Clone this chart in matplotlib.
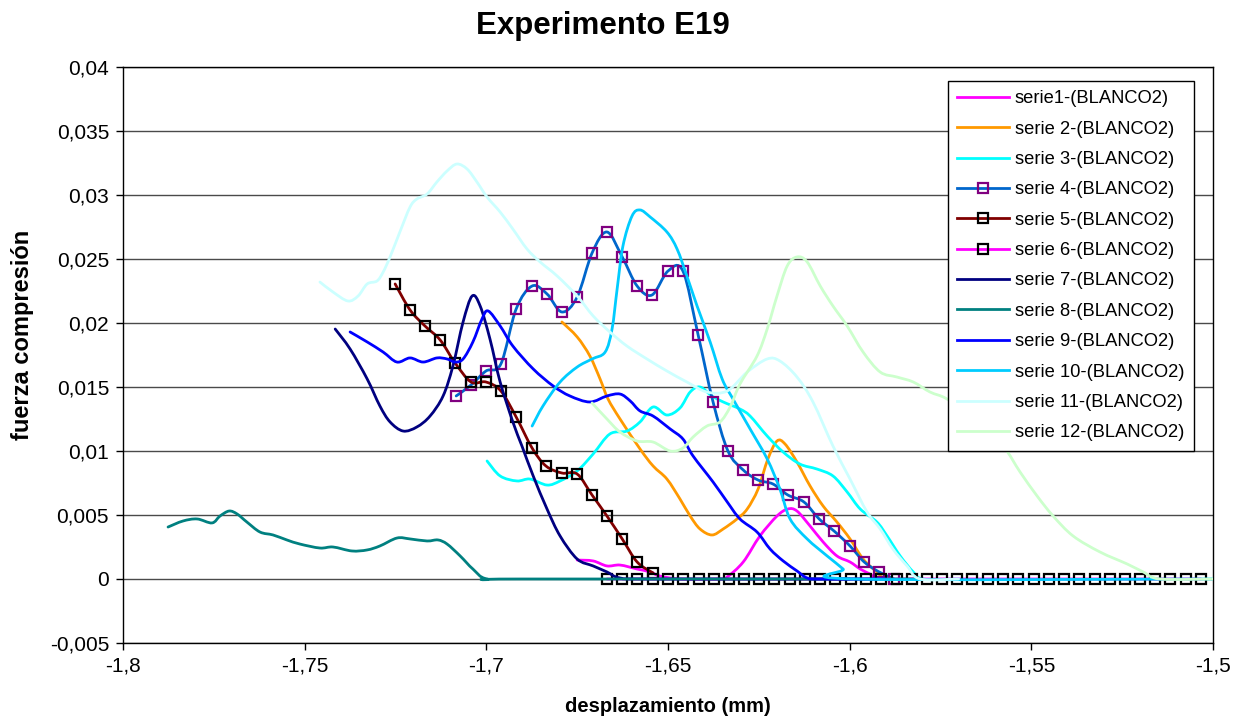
import numpy as np
import matplotlib
matplotlib.use("Agg")
import matplotlib.pyplot as plt
from matplotlib.path import Path
from matplotlib.patches import PathPatch
from matplotlib.lines import Line2D
from matplotlib.ticker import FixedLocator, FuncFormatter

plt.rcParams['font.family'] = ['Liberation Sans', 'DejaVu Sans']

# ---- data ----
s1_x = [-1.675, -1.6706, -1.6668, -1.6632, -1.6585, -1.6549, -1.6522, -1.6467, -1.6357,
        -1.6337, -1.6293, -1.6247, -1.62, -1.617, -1.6145, -1.6109, -1.6073, -1.6035,
        -1.5999, -1.5971, -1.5944, -1.5916, -1.58]
s1_y = [0.00148, 0.00141, 0.00102, 0.00109, 0.00078, 0.00055, 0.00023, 0.0, 0.0,
        0.00016, 0.00133, 0.00336, 0.00492, 0.00547, 0.00531, 0.00414, 0.00289, 0.0018,
        0.00133, 0.00078, 0.00039, 0.0, 0.0]

s2_x = [-1.6792, -1.675, -1.6715, -1.6687, -1.6665, -1.6632, -1.6577, -1.6541, -1.6503,
        -1.6467, -1.6439, -1.6412, -1.6379, -1.6348, -1.631, -1.6282, -1.6252, -1.6225,
        -1.62, -1.6178, -1.6145, -1.6109, -1.6073, -1.6035, -1.5999, -1.5963, -1.5925,
        -1.5897, -1.58]
s2_y = [0.02008, 0.01891, 0.01742, 0.01563, 0.01406, 0.0125, 0.01016, 0.00883, 0.00781,
        0.00625, 0.00492, 0.00391, 0.00344, 0.00391, 0.00469, 0.00547, 0.00703, 0.00938,
        0.01078, 0.01055, 0.00914, 0.00727, 0.0057, 0.00445, 0.00313, 0.00156, 0.00055,
        0.0, 0.0]

s3_x = [-1.6998, -1.6962, -1.6916, -1.688, -1.6833, -1.6797, -1.675, -1.6706, -1.666,
        -1.6613, -1.6577, -1.6541, -1.6503, -1.6467, -1.6439, -1.6412, -1.6379, -1.6348,
        -1.6302, -1.6274, -1.6227, -1.6183, -1.6137, -1.609, -1.6046, -1.6007, -1.5971,
        -1.5925, -1.5897, -1.5861, -1.5825, -1.5798, -1.57]
s3_y = [0.00922, 0.00805, 0.00766, 0.00781, 0.00734, 0.00766, 0.00844, 0.00977, 0.01133,
        0.01156, 0.01227, 0.01344, 0.01281, 0.01336, 0.01461, 0.015, 0.0143, 0.01383,
        0.01328, 0.01273, 0.01117, 0.00992, 0.00898, 0.00859, 0.00805, 0.0068, 0.00547,
        0.00445, 0.00336, 0.0018, 0.00055, 0.0, 0.0]

s4_x = [-1.7083, -1.7042, -1.7001, -1.696, -1.6918, -1.6874, -1.6833, -1.6792, -1.675,
        -1.6709, -1.6668, -1.6626, -1.6585, -1.6544, -1.65, -1.6459, -1.6417, -1.6376,
        -1.6335, -1.6293, -1.6252, -1.6211, -1.617, -1.6126, -1.6084, -1.6043, -1.5999,
        -1.596, -1.5919, -1.5878]
s4_y = [0.0143, 0.01516, 0.01625, 0.0168, 0.02109, 0.02289, 0.02227, 0.02086, 0.02203,
        0.02547, 0.02711, 0.02516, 0.02289, 0.02219, 0.02406, 0.02406, 0.01906, 0.01383,
        0.01, 0.00852, 0.00773, 0.00742, 0.00656, 0.00602, 0.00469, 0.00375, 0.00258,
        0.00133, 0.00055, 0.0]

s5_x = [-1.7251, -1.721, -1.7169, -1.7127, -1.7086, -1.7042, -1.7001, -1.696, -1.6918,
        -1.6874, -1.6836, -1.6792, -1.675, -1.6709, -1.6668, -1.6626, -1.6585, -1.6541]
s5_y = [0.02305, 0.02102, 0.01977, 0.01867, 0.01688, 0.01539, 0.01539, 0.01469, 0.01266,
        0.01023, 0.00883, 0.00828, 0.0082, 0.00656, 0.00492, 0.00313, 0.00133, 0.00047]

s6_x = [-1.6668, -1.6626, -1.6584, -1.6542, -1.65, -1.6458, -1.6416, -1.6374, -1.6333,
        -1.6291, -1.6249, -1.6207, -1.6165, -1.6123, -1.6081, -1.6039, -1.5997, -1.5955,
        -1.5913, -1.5871, -1.5829, -1.5787, -1.5746, -1.5704, -1.5662, -1.562, -1.5578,
        -1.5536, -1.5494, -1.5452, -1.541, -1.5368, -1.5326, -1.5284, -1.5242, -1.52,
        -1.5159, -1.5117, -1.5075, -1.5033]
s6_y = [0.0] * len(s6_x)

s7_x = [-1.7416, -1.7375, -1.7328, -1.7293, -1.7265, -1.7229, -1.7191, -1.7155, -1.7119,
        -1.7092, -1.7064, -1.7039, -1.7017, -1.699, -1.6962, -1.6927, -1.6902, -1.6871,
        -1.6833, -1.6797, -1.675, -1.6706, -1.6668, -1.6632, -1.655, -1.6]
s7_y = [0.01953, 0.01797, 0.01563, 0.01352, 0.01227, 0.01156, 0.01188, 0.01273, 0.0143,
        0.01664, 0.02008, 0.02211, 0.02133, 0.01875, 0.01539, 0.01227, 0.01039, 0.00805,
        0.00547, 0.00336, 0.00156, 0.00102, 0.00055, 0.00008, 0.0, 0.0]

s8_x = [-1.7876, -1.7835, -1.7796, -1.7755, -1.7733, -1.7708, -1.7686, -1.7659, -1.7623,
        -1.7587, -1.7549, -1.7513, -1.7458, -1.7422, -1.737, -1.7328, -1.7293, -1.7246,
        -1.721, -1.7163, -1.7133, -1.7108, -1.7072, -1.7037, -1.6998, -1.69, -1.58]
s8_y = [0.00406, 0.00453, 0.00469, 0.00438, 0.00492, 0.00531, 0.00508, 0.00445, 0.00367,
        0.00344, 0.00305, 0.00273, 0.00242, 0.0025, 0.00219, 0.00227, 0.00258, 0.0032,
        0.00313, 0.00297, 0.00305, 0.00273, 0.0018, 0.00078, 0.0, 0.0, 0.0]

s9_x = [-1.7375, -1.7328, -1.7284, -1.7246, -1.721, -1.7174, -1.7136, -1.7108, -1.7086,
        -1.7064, -1.7037, -1.7012, -1.6995, -1.6962, -1.6927, -1.6871, -1.6816, -1.677,
        -1.6715, -1.6668, -1.6632, -1.6604, -1.6577, -1.6541, -1.6494, -1.6459, -1.6431,
        -1.6376, -1.6337, -1.6302, -1.6255, -1.6219, -1.6183, -1.6145, -1.6117, -1.6081,
        -1.59]
s9_y = [0.0193, 0.01852, 0.01773, 0.01695, 0.01727, 0.01695, 0.01727, 0.01719, 0.01695,
        0.01719, 0.01852, 0.02031, 0.02094, 0.01977, 0.0182, 0.01641, 0.01508, 0.0143,
        0.01383, 0.0143, 0.01445, 0.01391, 0.01313, 0.01273, 0.01172, 0.01094, 0.00961,
        0.00758, 0.00602, 0.00469, 0.00367, 0.00234, 0.00141, 0.00063, 0.00008, 0.0,
        0.0]

s10_x = [-1.6874, -1.6844, -1.6797, -1.675, -1.6709, -1.6673, -1.6654, -1.664, -1.6624,
         -1.6599, -1.6577, -1.6549, -1.6503, -1.6475, -1.6448, -1.642, -1.6384, -1.6351,
         -1.6321, -1.6274, -1.6227, -1.6192, -1.6164, -1.6117, -1.6062, -1.6018, -1.5991,
         -1.5]
s10_y = [0.01195, 0.01352, 0.01539, 0.01656, 0.01719, 0.01773, 0.01953, 0.02266, 0.02602,
         0.02836, 0.02883, 0.02828, 0.02711, 0.02578, 0.02367, 0.02133, 0.01852, 0.01563,
         0.01406, 0.01172, 0.00938, 0.00703, 0.00469, 0.00313, 0.0018, 0.00078, 0.0,
         0.0]

s11_x = [-1.7458, -1.7422, -1.7381, -1.7353, -1.7328, -1.7301, -1.7284, -1.7265, -1.7238,
         -1.721, -1.7191, -1.7163, -1.7136, -1.7108, -1.7081, -1.7053, -1.7026, -1.6998,
         -1.6962, -1.6927, -1.6888, -1.6852, -1.6805, -1.675, -1.6706, -1.666, -1.6613,
         -1.6558, -1.6503, -1.6448, -1.6393, -1.6337, -1.6282, -1.6227, -1.6192, -1.6145,
         -1.6101, -1.6046, -1.5999, -1.5952, -1.5916, -1.5881, -1.5842, -1.5806, -1.57]
s11_y = [0.0232, 0.02242, 0.02172, 0.02211, 0.02305, 0.02328, 0.02398, 0.02516, 0.02711,
         0.02906, 0.02969, 0.03008, 0.03102, 0.03188, 0.03242, 0.03203, 0.03102, 0.02984,
         0.02867, 0.02734, 0.02578, 0.02477, 0.02367, 0.02211, 0.02055, 0.0193, 0.0182,
         0.01719, 0.01625, 0.01539, 0.01461, 0.01469, 0.01617, 0.01719, 0.01703, 0.01578,
         0.01383, 0.01039, 0.00781, 0.00523, 0.00391, 0.00234, 0.00102, 0.0, 0.0]

s12_x = [-1.6709, -1.6668, -1.6632, -1.6585, -1.6541, -1.6494, -1.6459, -1.6431, -1.6393,
         -1.6357, -1.6329, -1.6302, -1.6255, -1.6227, -1.62, -1.6172, -1.6145, -1.6117,
         -1.6081, -1.6046, -1.6007, -1.5963, -1.5916, -1.587, -1.5825, -1.5779, -1.5732,
         -1.5655, -1.5578, -1.5531, -1.5484, -1.544, -1.5385, -1.5311, -1.5236, -1.5192,
         -1.5146, -1.5]
s12_y = [0.01375, 0.0125, 0.01148, 0.01078, 0.0107, 0.01, 0.01023, 0.01109, 0.01195,
         0.01227, 0.01344, 0.01523, 0.01742, 0.01953, 0.02211, 0.02445, 0.02516, 0.02477,
         0.02289, 0.02133, 0.01977, 0.01773, 0.01617, 0.01578, 0.01539, 0.01461, 0.01406,
         0.0125, 0.01039, 0.00836, 0.00648, 0.00492, 0.00336, 0.00211, 0.00117, 0.00055,
         0.0, 0.0]

labels = ['serie1-(BLANCO2)', 'serie 2-(BLANCO2)', 'serie 3-(BLANCO2)', 'serie 4-(BLANCO2)',
          'serie 5-(BLANCO2)', 'serie 6-(BLANCO2)', 'serie 7-(BLANCO2)', 'serie 8-(BLANCO2)',
          'serie 9-(BLANCO2)', 'serie 10-(BLANCO2)', 'serie 11-(BLANCO2)', 'serie 12-(BLANCO2)']
xticks = [-1.8, -1.75, -1.7, -1.65, -1.6, -1.55, -1.5]
yticks = [-0.005, 0, 0.005, 0.01, 0.015, 0.02, 0.025, 0.03, 0.035, 0.04]

series = [(s1_x, s1_y), (s2_x, s2_y), (s3_x, s3_y), (s4_x, s4_y), (s5_x, s5_y), (s6_x, s6_y),
          (s7_x, s7_y), (s8_x, s8_y), (s9_x, s9_y), (s10_x, s10_y), (s11_x, s11_y), (s12_x, s12_y)]
colors = ['#FF00FF', '#FF9900', '#00FFFF', '#0066CC', '#800000', '#FF00FF',
          '#000080', '#008080', '#0000FF', '#00CCFF', '#CCFFFF', '#CCFFCC']
marker_edge = {3: '#800080', 4: 'black', 5: 'black'}


def smooth_path(x, y):
    # Excel-like smoothed line: cubic bezier through the points
    p = np.column_stack([x, y])
    n = len(p)
    verts = [p[0]]
    codes = [Path.MOVETO]
    for i in range(n - 1):
        p0 = p[i - 1] if i > 0 else p[i]
        p3 = p[i + 2] if i + 2 < n else p[i + 1]
        verts += [p[i] + (p[i + 1] - p0) / 6, p[i + 1] - (p3 - p[i]) / 6, p[i + 1]]
        codes += [Path.CURVE4] * 3
    return Path(verts, codes)


fig = plt.figure(figsize=(12.44, 7.18), dpi=100)
ax = fig.add_axes([123 / 1244, 1 - 643 / 718, 1090 / 1244, 576 / 718])

handles = []
for i, (x, y) in enumerate(series):
    ax.add_patch(PathPatch(smooth_path(x, y), facecolor='none', edgecolor=colors[i],
                           lw=2.0, zorder=3 + i, capstyle='round', joinstyle='round'))
    if i in marker_edge:
        ax.plot(x, y, ls='none', marker='s', ms=7, mfc='none', mec=marker_edge[i],
                mew=1.6, zorder=3 + i)
        handles.append(Line2D([], [], color=colors[i], lw=2.0, marker='s', ms=7, mfc='none',
                              mec=marker_edge[i], mew=1.6))
    else:
        handles.append(Line2D([], [], color=colors[i], lw=2.0))

ax.set_xlim(-1.8, -1.5)
ax.set_ylim(-0.005, 0.04)
ax.xaxis.set_major_locator(FixedLocator(xticks))
ax.yaxis.set_major_locator(FixedLocator(yticks))
fmt = FuncFormatter(lambda v, p: f"{v:g}".replace('.', ','))
ax.xaxis.set_major_formatter(fmt)
ax.yaxis.set_major_formatter(fmt)
ax.tick_params(direction='out', length=5, width=1, labelsize=15, pad=5, color='black')
ax.grid(axis='y', color='#4a4a4a', lw=1)
ax.set_axisbelow(True)
for s in ax.spines.values():
    s.set_color('black')
    s.set_linewidth(1)

ax.set_xlabel('desplazamiento (mm)', fontsize=14.5, fontweight='bold')
ax.set_ylabel('fuerza compresión', fontsize=17, fontweight='bold')
ax.xaxis.set_label_coords(0.5, -0.094)
ax.yaxis.set_label_coords(-0.082, 0.535)

fig.text(603 / 1244, 1 - 34 / 718, 'Experimento E19', fontsize=22.5, fontweight='bold',
         ha='center', va='baseline')

leg = ax.legend(handles, labels, loc='upper left', bbox_to_anchor=(948 / 1244, 1 - 81 / 718),
                bbox_transform=fig.transFigure, borderaxespad=0, fontsize=13.2,
                frameon=True, fancybox=False, edgecolor='black', framealpha=1,
                handlelength=2.8, handletextpad=0.35, labelspacing=0.73, borderpad=0.5)
leg.get_frame().set_linewidth(1)
leg.set_zorder(20)

plt.savefig('out.png', dpi=100)
